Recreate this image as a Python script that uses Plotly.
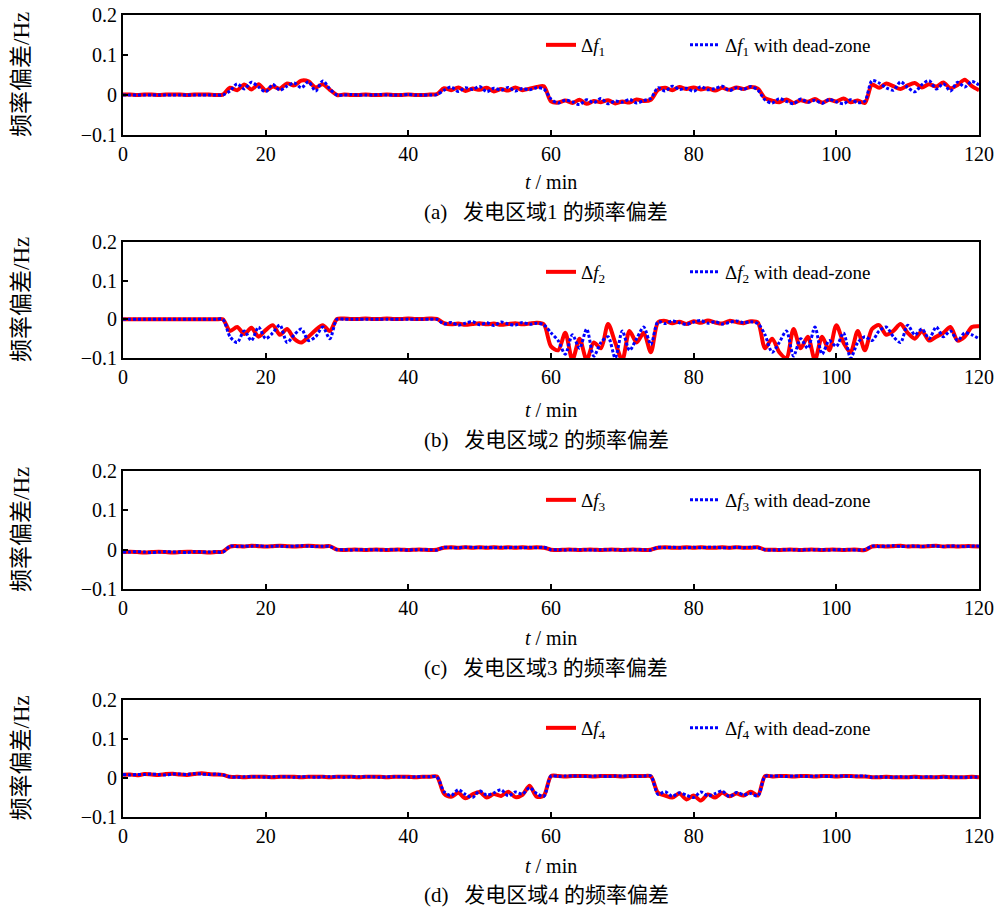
import plotly.graph_objects as go

# ---------------- data ----------------
t_min = list(range(0, 121))

df1 = [0.001,0.001,0.000,0.001,0.001,0.000,0.001,0.001,0.001,0.000,0.001,0.001,0.001,0.000,0.001,
       0.018,0.012,0.026,0.014,0.027,0.011,0.021,0.016,0.029,0.024,0.036,0.034,0.019,0.027,0.013,
       0.000,0.001,0.000,0.000,0.001,0.000,0.000,0.001,0.000,0.000,0.001,0.000,0.000,0.001,0.002,
       0.017,0.012,0.019,0.010,0.016,0.013,0.018,0.009,0.015,0.011,0.019,0.012,0.016,0.020,0.022,
       -0.016,-0.019,-0.014,-0.020,-0.012,-0.022,-0.015,-0.018,-0.013,-0.021,-0.016,-0.019,-0.011,-0.015,-0.012,
       0.013,0.018,0.012,0.020,0.015,0.019,0.014,0.017,0.011,0.018,0.013,0.019,0.015,0.020,0.016,
       -0.008,-0.014,-0.018,-0.011,-0.020,-0.013,-0.017,-0.010,-0.019,-0.012,-0.016,-0.009,-0.018,-0.014,-0.020,
       0.026,0.018,0.029,0.022,0.015,0.024,0.030,0.019,0.027,0.021,0.031,0.017,0.025,0.038,0.022,0.012]
df1_dz = [0.000,0.000,0.000,0.000,0.000,0.000,0.000,0.000,0.000,0.000,0.000,0.000,0.000,0.000,0.000,
          0.010,0.028,0.015,0.032,0.020,0.008,0.026,0.012,0.022,0.030,0.018,0.033,0.010,0.035,0.015,
          0.000,0.000,0.001,0.000,0.000,0.000,0.001,0.000,0.000,0.000,0.001,0.000,0.000,0.000,0.001,
          0.012,0.020,0.009,0.018,0.014,0.021,0.008,0.017,0.012,0.019,0.010,0.016,0.013,0.018,0.015,
          -0.010,-0.020,-0.013,-0.017,-0.024,-0.012,-0.019,-0.009,-0.022,-0.015,-0.018,-0.011,-0.020,-0.014,-0.008,
          0.018,0.010,0.022,0.014,0.017,0.009,0.021,0.013,0.016,0.022,0.011,0.018,0.014,0.021,0.012,
          -0.012,-0.020,-0.009,-0.016,-0.022,-0.010,-0.018,-0.013,-0.021,-0.011,-0.017,-0.022,-0.012,-0.019,-0.015,
          0.036,0.030,0.018,0.012,0.033,0.019,0.008,0.026,0.036,0.015,0.028,0.010,0.032,0.020,0.034,0.025]

df2 = [0.000,0.000,0.000,0.000,0.000,0.000,0.000,0.000,0.000,0.000,0.000,0.000,0.000,0.000,0.000,
       -0.030,-0.020,-0.038,-0.022,-0.045,-0.028,-0.015,-0.040,-0.025,-0.050,-0.060,-0.045,-0.028,-0.015,-0.030,
       0.001,0.002,0.001,0.001,0.002,0.001,0.001,0.002,0.001,0.001,0.002,0.001,0.001,0.002,0.001,
       -0.010,-0.013,-0.011,-0.014,-0.012,-0.010,-0.013,-0.011,-0.014,-0.012,-0.010,-0.013,-0.011,-0.009,-0.013,
       -0.070,-0.080,-0.035,-0.105,-0.050,-0.105,-0.060,-0.075,-0.012,-0.060,-0.105,-0.030,-0.060,-0.035,-0.085,
       -0.008,-0.004,-0.010,-0.006,-0.012,-0.005,-0.009,-0.003,-0.008,-0.011,-0.004,-0.007,-0.010,-0.005,-0.008,
       -0.075,-0.050,-0.085,-0.100,-0.025,-0.075,-0.045,-0.105,-0.045,-0.080,-0.015,-0.060,-0.085,-0.030,-0.080,
       -0.025,-0.015,-0.040,-0.030,-0.012,-0.035,-0.050,-0.030,-0.055,-0.045,-0.035,-0.020,-0.055,-0.045,-0.020,-0.018]
df2_dz = [0.000,0.000,0.000,0.000,0.000,0.000,0.000,0.000,0.000,0.000,0.000,0.000,0.000,0.000,0.000,
          -0.045,-0.060,-0.030,-0.055,-0.020,-0.050,-0.035,-0.015,-0.060,-0.040,-0.025,-0.055,-0.045,-0.020,-0.050,
          0.000,0.000,0.000,0.000,0.000,0.000,0.000,0.000,0.000,0.000,0.000,0.000,0.000,0.000,0.000,
          -0.012,-0.008,-0.015,-0.010,-0.006,-0.014,-0.009,-0.016,-0.007,-0.012,-0.015,-0.008,-0.013,-0.010,-0.014,
          -0.035,-0.055,-0.090,-0.040,-0.075,-0.025,-0.095,-0.060,-0.045,-0.100,-0.030,-0.080,-0.050,-0.020,-0.065,
          -0.006,-0.011,-0.004,-0.009,-0.013,-0.007,-0.003,-0.010,-0.006,-0.012,-0.008,-0.004,-0.009,-0.006,-0.011,
          -0.040,-0.085,-0.060,-0.030,-0.095,-0.050,-0.075,-0.020,-0.090,-0.055,-0.070,-0.035,-0.100,-0.060,-0.045,
          -0.055,-0.030,-0.020,-0.045,-0.060,-0.015,-0.040,-0.025,-0.050,-0.020,-0.045,-0.030,-0.055,-0.035,-0.040,-0.050]

df3 = [-0.006,-0.005,-0.006,-0.007,-0.006,-0.005,-0.006,-0.007,-0.006,-0.005,-0.006,-0.006,-0.007,-0.006,-0.005,
       0.008,0.009,0.008,0.010,0.009,0.008,0.009,0.010,0.009,0.008,0.009,0.010,0.009,0.008,0.009,
       0.000,-0.001,0.000,0.000,-0.001,0.000,0.000,-0.001,0.000,0.000,-0.001,0.000,0.000,-0.001,0.000,
       0.005,0.006,0.005,0.006,0.005,0.006,0.005,0.006,0.005,0.006,0.005,0.006,0.005,0.006,0.005,
       0.000,-0.001,0.000,0.000,-0.001,0.000,0.000,-0.001,0.000,0.000,-0.001,0.000,0.000,-0.001,0.000,
       0.005,0.006,0.005,0.005,0.006,0.005,0.006,0.005,0.005,0.006,0.005,0.006,0.005,0.005,0.006,
       0.000,0.000,-0.001,0.000,0.000,-0.001,0.000,0.000,-0.001,0.000,0.000,-0.001,0.000,0.000,-0.001,
       0.008,0.009,0.008,0.009,0.010,0.008,0.009,0.008,0.009,0.010,0.008,0.009,0.008,0.009,0.009,0.008]
df3_dz = [-0.006,-0.006,-0.005,-0.006,-0.007,-0.006,-0.005,-0.006,-0.006,-0.007,-0.005,-0.006,-0.006,-0.005,-0.006,
          0.009,0.008,0.009,0.009,0.010,0.008,0.009,0.009,0.008,0.009,0.010,0.009,0.008,0.009,0.008,
          0.000,0.000,-0.001,0.000,0.000,0.000,-0.001,0.000,0.000,0.000,-0.001,0.000,0.000,0.000,-0.001,
          0.006,0.005,0.005,0.006,0.006,0.005,0.006,0.005,0.006,0.005,0.006,0.005,0.006,0.005,0.006,
          0.000,0.000,-0.001,0.000,0.000,0.000,-0.001,0.000,0.000,0.000,-0.001,0.000,0.000,0.000,-0.001,
          0.006,0.005,0.006,0.005,0.005,0.006,0.005,0.006,0.006,0.005,0.005,0.006,0.005,0.006,0.005,
          0.000,-0.001,0.000,0.000,0.000,-0.001,0.000,0.000,0.000,-0.001,0.000,0.000,0.000,-0.001,0.000,
          0.009,0.008,0.009,0.010,0.008,0.009,0.009,0.008,0.010,0.009,0.008,0.009,0.009,0.008,0.009,0.009]

df4 = [0.008,0.009,0.007,0.010,0.009,0.008,0.010,0.011,0.009,0.008,0.010,0.012,0.010,0.009,0.008,
       0.003,0.003,0.002,0.003,0.003,0.003,0.002,0.003,0.003,0.003,0.002,0.003,0.003,0.003,0.002,
       0.003,0.003,0.003,0.002,0.003,0.003,0.003,0.002,0.003,0.003,0.003,0.002,0.003,0.003,0.004,
       -0.040,-0.048,-0.038,-0.052,-0.042,-0.036,-0.050,-0.041,-0.046,-0.035,-0.049,-0.043,-0.020,-0.048,-0.045,
       0.005,0.005,0.004,0.005,0.005,0.005,0.004,0.005,0.005,0.005,0.004,0.005,0.005,0.005,0.004,
       -0.038,-0.045,-0.050,-0.040,-0.055,-0.045,-0.058,-0.042,-0.050,-0.038,-0.047,-0.040,-0.045,-0.035,-0.045,
       0.005,0.004,0.005,0.005,0.004,0.005,0.005,0.004,0.005,0.005,0.004,0.005,0.005,0.004,0.004,
       0.002,0.002,0.003,0.002,0.002,0.002,0.003,0.002,0.002,0.002,0.003,0.002,0.002,0.002,0.003,0.002]
df4_dz = [0.009,0.008,0.009,0.009,0.010,0.009,0.008,0.010,0.010,0.009,0.011,0.010,0.009,0.010,0.008,
          0.003,0.002,0.003,0.003,0.003,0.002,0.003,0.003,0.003,0.002,0.003,0.003,0.002,0.003,0.003,
          0.003,0.002,0.003,0.003,0.003,0.003,0.002,0.003,0.003,0.003,0.002,0.003,0.003,0.003,0.003,
          -0.035,-0.045,-0.030,-0.042,-0.050,-0.033,-0.044,-0.038,-0.030,-0.046,-0.036,-0.041,-0.025,-0.040,-0.047,
          0.005,0.004,0.005,0.005,0.005,0.004,0.005,0.005,0.004,0.005,0.005,0.005,0.004,0.005,0.005,
          -0.042,-0.035,-0.047,-0.038,-0.044,-0.050,-0.036,-0.046,-0.040,-0.033,-0.048,-0.037,-0.043,-0.040,-0.046,
          0.004,0.005,0.005,0.004,0.005,0.005,0.004,0.005,0.005,0.004,0.005,0.005,0.004,0.005,0.005,
          0.002,0.003,0.002,0.002,0.003,0.002,0.002,0.002,0.003,0.002,0.002,0.003,0.002,0.002,0.002,0.003]

series = [(df1, df1_dz), (df2, df2_dz), (df3, df3_dz), (df4, df4_dz)]
legend_names = ["Δ<i>f</i><sub>1</sub>", "Δ<i>f</i><sub>2</sub>", "Δ<i>f</i><sub>3</sub>", "Δ<i>f</i><sub>4</sub>"]
captions = ["(a)   发电区域1 的频率偏差", "(b)   发电区域2 的频率偏差",
            "(c)   发电区域3 的频率偏差", "(d)   发电区域4 的频率偏差"]
x_ticks = [0, 20, 40, 60, 80, 100, 120]
y_ticks = [-0.1, 0, 0.1, 0.2]
y_tick_text = ["−0.1", "0", "0.1", "0.2"]
y_title = "频率偏差/Hz"
x_title = "<i>t</i> / min"

# ---------------- layout geometry (pixels) ----------------
W, H = 1000, 912
X0, X1 = 123, 979
panels = [(15, 135), (242, 358), (471, 589), (700, 817)]
legend_y = [45, 272, 500, 728]
legend_x_red = 541
legend_x_blue = 685
xtitle_y = [182, 410, 638, 866]
caption_y = [212, 440, 668, 895]

def py(p):
    return 1 - p / H

SERIF = "Liberation Serif, 'Times New Roman', 'Noto Sans CJK SC', serif"
RED = "#ff0000"
BLUE = "#0000ff"

fig = go.Figure()
layout = dict(
    width=W, height=H, autosize=False, showlegend=True,
    margin=dict(l=0, r=0, t=0, b=0, autoexpand=False),
    paper_bgcolor="white", plot_bgcolor="white",
    font=dict(family=SERIF, size=18, color="black"),
    annotations=[],
)

for i, (vals, vals_dz) in enumerate(series):
    k = "" if i == 0 else str(i + 1)
    leg_red = "legend" if i == 0 else "legend" + str(2 * i + 1)
    leg_blue = "legend" + str(2 * i + 2)
    fig.add_trace(go.Scatter(
        x=t_min, y=vals, mode="lines", name=legend_names[i], showlegend=True,
        line=dict(color=RED, width=4, shape="spline", smoothing=0.8),
        xaxis="x" + k, yaxis="y" + k, legend=leg_red))
    fig.add_trace(go.Scatter(
        x=t_min, y=vals_dz, mode="lines", name=legend_names[i] + " with dead-zone", showlegend=True,
        line=dict(color=BLUE, width=3, dash="3px,2px", shape="spline", smoothing=0.8),
        xaxis="x" + k, yaxis="y" + k, legend=leg_blue))

    top, bot = panels[i]
    axis_common = dict(showline=True, linewidth=2, linecolor="black", mirror=True,
                       ticks="inside", ticklen=5, tickwidth=1.5, tickcolor="black",
                       showgrid=False, zeroline=False, automargin=False,
                       tickfont=dict(family=SERIF, size=20, color="black"))
    layout["xaxis" + k] = dict(axis_common, domain=[X0 / W, X1 / W], anchor="y" + k,
                               range=[0, 120], tickvals=x_ticks)
    layout["yaxis" + k] = dict(axis_common, domain=[py(bot), py(top)], anchor="x" + k,
                               range=[-0.1, 0.2], tickvals=y_ticks, ticktext=y_tick_text)
    leg_common = dict(y=py(legend_y[i]), xanchor="left", yanchor="middle", visible=True,
                      orientation="h", bgcolor="rgba(0,0,0,0)", borderwidth=0,
                      font=dict(family=SERIF, size=19, color="black"))
    layout[leg_red] = dict(leg_common, x=legend_x_red / W)
    layout[leg_blue] = dict(leg_common, x=legend_x_blue / W)
    layout["annotations"] += [
        dict(text=y_title, x=21 / W, y=py((top + bot) / 2), xref="paper", yref="paper",
             xanchor="center", yanchor="middle", textangle=-90, showarrow=False,
             font=dict(family=SERIF, size=23, color="black")),
        dict(text=x_title, x=(X0 + X1) / 2 / W, y=py(xtitle_y[i]), xref="paper", yref="paper",
             xanchor="center", yanchor="middle", showarrow=False,
             font=dict(family=SERIF, size=20, color="black")),
        dict(text=captions[i], x=(X0 + X1) / 2 / W - 0.005, y=py(caption_y[i]), xref="paper", yref="paper",
             xanchor="center", yanchor="middle", showarrow=False,
             font=dict(family=SERIF, size=21, color="black")),
    ]

fig.update_layout(**layout)
fig.write_html("out.html")
